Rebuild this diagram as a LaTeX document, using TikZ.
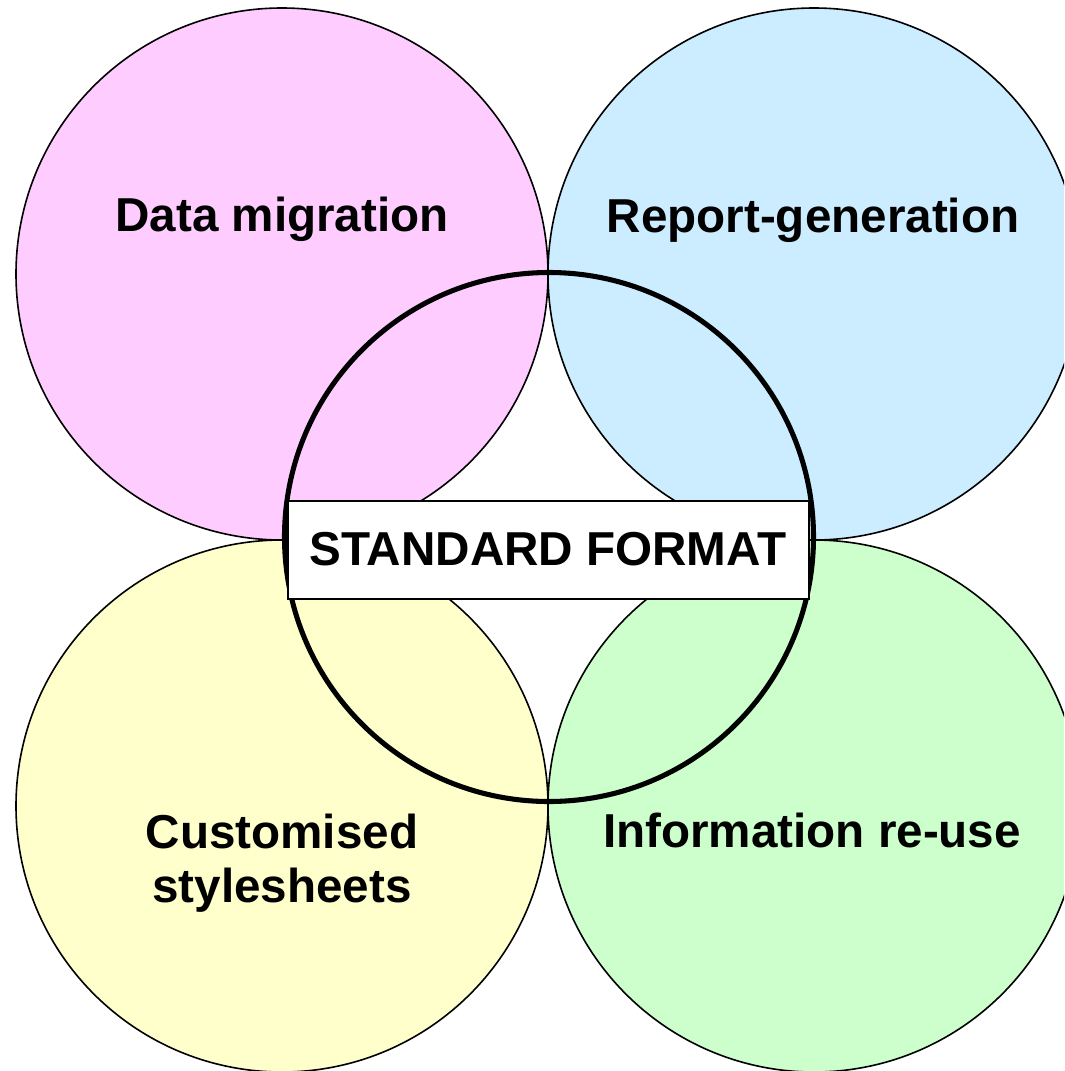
\documentclass[tikz,border=0pt]{standalone}
\usepackage{fontspec}
\setmainfont{Liberation Sans}
\definecolor{cpink}{HTML}{FFCCFF}
\definecolor{cblue}{HTML}{CCECFF}
\definecolor{cyellow}{HTML}{FFFFCC}
\definecolor{cgreen}{HTML}{CCFFCC}
\begin{document}
\begin{tikzpicture}[x=0.75pt,y=-0.75pt,
  outer/.style={circle,draw=black,line width=1.2pt,minimum size=532*0.75pt,inner sep=0pt},
  lbl/.style={font=\fontsize{35.7pt}{40.5pt}\selectfont\bfseries,anchor=base,align=center,inner sep=0pt},
  central/.style={circle,draw=black,line width=3.8pt,minimum size=529*0.75pt,inner sep=0pt},
  fmtbox/.style={draw=black,fill=white,line width=1.4pt,minimum width=521*0.75pt,minimum height=98*0.75pt,inner sep=0pt}]
\useasboundingbox (0,0) rectangle (1064,1071);
\begin{scope}
\clip (0,0) rectangle (1064,1071);
\node[outer,fill=cpink] (tl) at (282,274) {};
\node[outer,fill=cblue] (tr) at (814,274) {};
\node[outer,fill=cyellow] (bl) at (282,806) {};
\node[outer,fill=cgreen] (br) at (814,806) {};
\node[central] (c) at (549,537) {};
\end{scope}
\node[fmtbox] (box) at (548.5,550) {};
\node[lbl] (tfmt) at (548,565) {STANDARD FORMAT};
\node[lbl] (tdm) at (282,231) {Data migration};
\node[lbl] (trg) at (813,232) {Report-generation};
\node[lbl] (tcs) at (282,902) {Customised\\stylesheets};
\node[lbl] (tir) at (812,847) {Information re-use};
\end{tikzpicture}
\end{document}
